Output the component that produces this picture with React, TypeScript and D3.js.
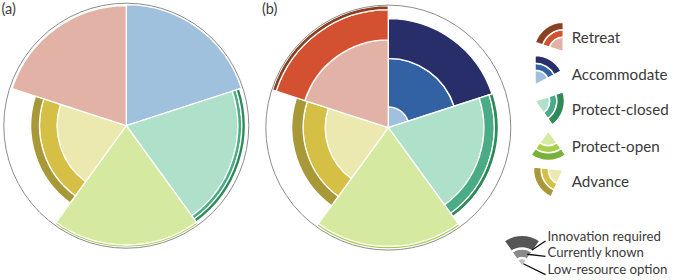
import React from 'react'
import * as d3 from 'd3'

// strategies, clockwise from 12 o'clock
const CATEGORIES = ['Accommodate', 'Protect-closed', 'Protect-open', 'Advance', 'Retreat']
const LEVELS = ['Low-resource option', 'Currently known', 'Innovation required']
const LEGEND_ORDER = ['Retreat', 'Accommodate', 'Protect-closed', 'Protect-open', 'Advance']

// cumulative extent of each level, % of the outer circle
const PANEL_A_LOW = [98.8, 91, 97.5, 56.5, 98]
const PANEL_A_KNOWN = [98.8, 94.2, 99.2, 70.8, 98]
const PANEL_A_INNOV = [98.8, 97.2, 99.2, 78, 98]

const PANEL_B_LOW = [17, 78, 97, 51.5, 71.6]
const PANEL_B_KNOWN = [56.5, 86.5, 99, 69.5, 96.3]
const PANEL_B_INNOV = [89, 89.8, 99, 78.8, 99.5]

const COLORS: Record<string, string[]> = {
  'Accommodate': ['#a0c1de', '#3262a4', '#272e69'],
  'Protect-closed': ['#aee0ca', '#4aac86', '#2f8a5a'],
  'Protect-open': ['#d6e9a1', '#a8cf4a', '#78b23a'],
  'Advance': ['#ece9b0', '#d5bf45', '#a89838'],
  'Retreat': ['#e3b2a6', '#d35030', '#8b4121']
}
const GREYS = ['#c0c0c0', '#8a8a8a', '#555555']

const R = 122.5
const FONT = 'Lato, "Open Sans", sans-serif'
const TEXT = '#3a3a3a'
const rad = (deg: number) => deg * Math.PI / 180

// legend icon placement: vertex and angular span
const ICONS: Record<string, { x: number, y: number, a0: number, a1: number }> = {
  'Retreat': { x: 563.3, y: 51.7, a0: 288, a1: 360 },
  'Accommodate': { x: 535, y: 85, a0: 0, a1: 62 },
  'Protect-closed': { x: 535, y: 101, a0: 72, a1: 144 },
  'Protect-open': { x: 548.3, y: 131, a0: 144, a1: 216 },
  'Advance': { x: 563, y: 170, a0: 204, a1: 276 }
}
const LABEL_Y = [43.3, 79.5, 115, 151.5, 186.7]

function Panel({ cx, cy, low, known, innov, label, lx }: any) {
  const r = d3.scaleLinear().domain([0, 100]).range([0, R])
  const step = 360 / CATEGORIES.length
  const arc = d3.arc<any>()
  const layers = [low, known, innov]
  return (
    <g>
      <text x={lx} y={13.5} fontFamily={FONT} fontSize={14.5} fill={TEXT}>{label}</text>
      <g transform={`translate(${cx},${cy})`}>
        {CATEGORIES.map((c, i) =>
          layers.map((vals, j) => {
            const inner = j === 0 ? 0 : layers[j - 1][i]
            const outer = vals[i]
            if (outer <= inner) return null
            return (
              <path key={c + j}
                d={arc({ innerRadius: r(inner), outerRadius: r(outer), startAngle: rad(i * step), endAngle: rad((i + 1) * step) }) || ''}
                fill={COLORS[c][j]} stroke='#fff' strokeWidth={1.3} />
            )
          })
        )}
        <circle r={R} fill='none' stroke='#8c8c8c' strokeWidth={1} />
      </g>
    </g>
  )
}

function Legend() {
  const arc = d3.arc<any>()
  const frac = d3.scaleLinear().domain([0, 1]).range([0, 29.5])
  const steps = [0.5, 0.74, 1]
  // grey key
  const g = { x: 522, y: 267, r: 32 }
  const gFrac = [0.28, 0.58, 1]
  const leaders = [{ r: 19.7, a: 30.5, y: 241 }, { r: 13.8, a: 22.6, y: 256.3 }, { r: 3.5, a: 21.5, y: 274.7 }]
  const keyY = [241, 257, 273.5]
  return (
    <g>
      {LEGEND_ORDER.map((c, k) => {
        const ic = ICONS[c]
        return (
          <g key={c}>
            <g transform={`translate(${ic.x},${ic.y})`}>
              {steps.map((s, j) => (
                <path key={j}
                  d={arc({ innerRadius: j === 0 ? 0 : frac(steps[j - 1]), outerRadius: frac(s), startAngle: rad(ic.a0), endAngle: rad(ic.a1) }) || ''}
                  fill={COLORS[c][j]} stroke='#fff' strokeWidth={1.5} />
              ))}
            </g>
            <text x={571.7} y={LABEL_Y[k]} fontFamily={FONT} fontSize={15.2} fill={TEXT}>{c}</text>
          </g>
        )
      })}
      <g transform={`translate(${g.x},${g.y})`}>
        {gFrac.map((s, j) => (
          <path key={j}
            d={arc({ innerRadius: j === 0 ? 0 : g.r * gFrac[j - 1], outerRadius: g.r * s, startAngle: rad(-35), endAngle: rad(35) }) || ''}
            fill={GREYS[j]} stroke='#fff' strokeWidth={2.2} />
        ))}
      </g>
      {[...LEVELS].reverse().map((lv, k) => {
        const ld = leaders[k]
        const x0 = g.x + ld.r * Math.sin(rad(ld.a))
        const y0 = g.y - ld.r * Math.cos(rad(ld.a))
        return (
          <g key={lv}>
            <line x1={x0} y1={y0} x2={545.5} y2={ld.y} stroke='#111' strokeWidth={1.3} />
            <text x={547.5} y={keyY[k]} fontFamily={FONT} fontSize={13.2} fill={TEXT}>{lv}</text>
          </g>
        )
      })}
    </g>
  )
}

export default function App() {
  return (
    <div style={{ position: 'absolute', left: 0, top: 0 }}>
      <svg width={675} height={280} style={{ display: 'block', background: '#fff' }}>
        <Panel cx={126.3} cy={125.7} low={PANEL_A_LOW} known={PANEL_A_KNOWN} innov={PANEL_A_INNOV} label='(a)' lx={1.5} />
        <Panel cx={388.3} cy={127.6} low={PANEL_B_LOW} known={PANEL_B_KNOWN} innov={PANEL_B_INNOV} label='(b)' lx={262} />
        <Legend />
      </svg>
    </div>
  )
}
